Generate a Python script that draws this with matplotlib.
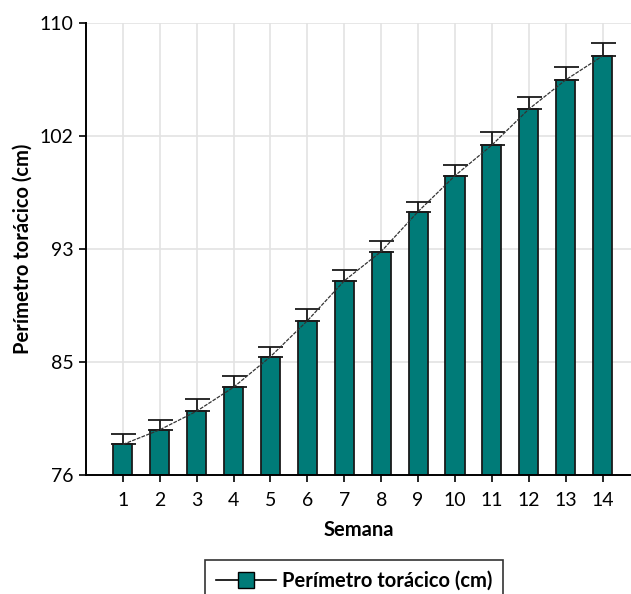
import numpy as np
import matplotlib
matplotlib.use('Agg')
from matplotlib import pyplot as plt
from matplotlib.lines import Line2D

plt.rcParams['font.family'] = ['Lato', 'DejaVu Sans']

# Data
semana = np.arange(1, 15)
perimetro = [78.3, 79.4, 80.8, 82.6, 84.9, 87.6, 90.6, 92.8, 95.8, 98.5, 100.8, 103.5, 105.7, 107.5]
error = [0.75, 0.75, 0.88, 0.88, 0.75, 0.88, 0.78, 0.78, 0.75, 0.77, 0.98, 0.88, 1.0, 0.98]
yticks = [76, 84.5, 93, 101.5, 110]
ytick_labels = ['76', '85', '93', '102', '110']

colorBar = '#007b78'

fig = plt.figure(figsize=(6.31, 5.94), dpi=100)
ax = fig.add_axes([0.1363, 0.2003, 0.8637, 0.7615])

ax.bar(semana, np.array(perimetro) - 76, bottom=76, width=0.52,
       color=colorBar, edgecolor='#1a1a1a', linewidth=1.3, zorder=3)
ax.errorbar(semana, perimetro, yerr=[np.zeros(len(error)), error], fmt='none',
            ecolor='#1a1a1a', elinewidth=1.3, capsize=9, capthick=1.3, zorder=4)
ax.plot(semana, perimetro, color='#333333', linewidth=0.9, linestyle=(0, (3, 1)), zorder=5)

ax.set_xlim(0, 14.77)
ax.set_ylim(76, 110)
ax.set_xticks(semana)
ax.set_yticks(yticks)
ax.set_yticklabels(ytick_labels)
ax.tick_params(labelsize=14, length=5, width=1.2, colors='black', pad=4)
ax.tick_params(axis='x', pad=7)
ax.grid(True, color='#e3e3e3', linewidth=1.2, zorder=0)
ax.set_axisbelow(True)

for side in ['top', 'right']:
    ax.spines[side].set_visible(False)
for side in ['left', 'bottom']:
    ax.spines[side].set_linewidth(1.4)
    ax.spines[side].set_zorder(6)

ax.set_xlabel('Semana', fontsize=14.5, fontweight='bold', labelpad=8)
ax.set_ylabel('Perímetro torácico (cm)', fontsize=14.5, fontweight='bold', labelpad=5)

handle = Line2D([], [], color='black', linewidth=1.2, marker='s', markersize=11,
                markerfacecolor=colorBar, markeredgecolor='black')
leg = fig.legend([handle], ['Perímetro torácico (cm)'], loc='upper center',
                 bbox_to_anchor=(354 / 631, 1 - 560 / 594), fancybox=False,
                 edgecolor='#333333', framealpha=1, handlelength=3.0, handletextpad=0.3,
                 prop={'size': 14.5, 'weight': 'bold'}, borderpad=0.55, borderaxespad=0)
leg.get_frame().set_linewidth(1.2)

fig.savefig('out.png', dpi=100)
